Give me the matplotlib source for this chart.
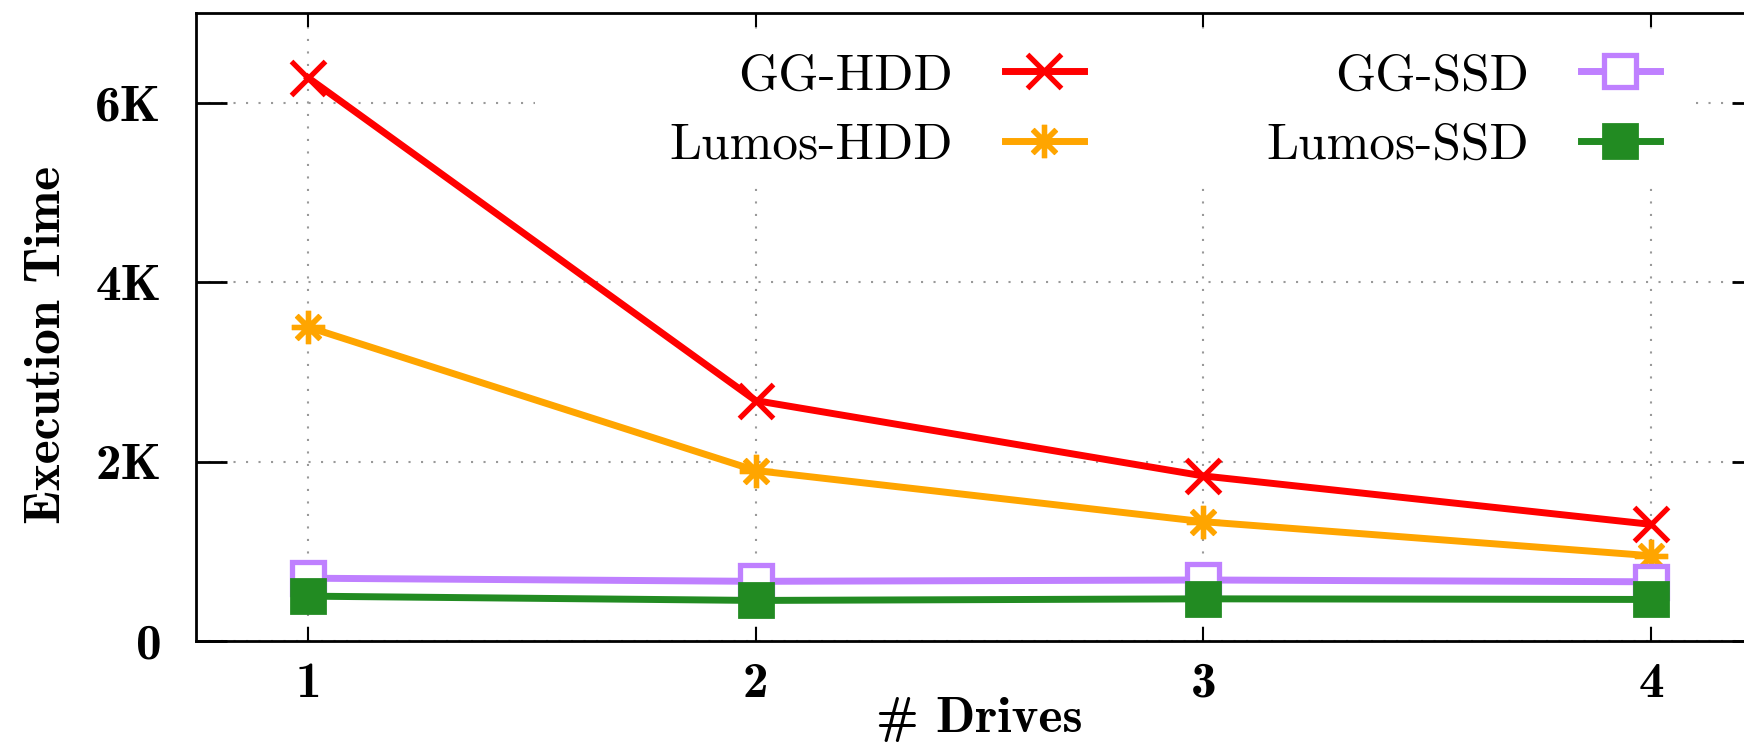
import matplotlib
matplotlib.use('Agg')
import matplotlib.pyplot as plt
from matplotlib.patches import Rectangle

# Data
drives = [1, 2, 3, 4]
gg_hdd = [6280, 2680, 1840, 1300]
lumos_hdd = [3500, 1900, 1330, 950]
gg_ssd = [700, 665, 680, 660]
lumos_ssd = [500, 452, 470, 463]

yticks = [0, 2000, 4000, 6000]
ytick_labels = ['0', '2K', '4K', '6K']

plt.rcParams['axes.unicode_minus'] = False

fig = plt.figure(figsize=(17.44, 7.49), dpi=100)
ax = fig.add_axes([196 / 1744, 1 - 641 / 749, (1763 - 196) / 1744, (641 - 13) / 749])

lw = 5
ax.plot(drives, gg_hdd, color='#ff0000', lw=lw, marker='x', ms=24, mew=3.8,
        label='GG-HDD')
ax.plot(drives, lumos_hdd, color='#ffa500', lw=lw, marker=(8, 2, 0), ms=24, mew=3.8,
        label='Lumos-HDD')
ax.plot(drives, gg_ssd, color='#bf80ff', lw=lw, marker='s', ms=23, mew=3.8,
        mfc='white', label='GG-SSD')
ax.plot(drives, lumos_ssd, color='#228b22', lw=lw, marker='s', ms=25, mew=2,
        label='Lumos-SSD')

fs = 37
ax.set_xlim(0.75, 4.25)
ax.set_ylim(0, 7000)
ax.set_xticks(drives)
ax.set_xticklabels([str(d) for d in drives], fontfamily='cmb10', fontsize=fs)
ax.set_yticks(yticks)
ax.set_yticklabels(ytick_labels, fontfamily='cmb10', fontsize=fs)

ax.tick_params(axis='y', direction='in', length=22, width=2, pad=25, right=True)
ax.tick_params(axis='x', direction='in', length=10, width=1.5, pad=15, top=True)

for s in ax.spines.values():
    s.set_linewidth(2)

ax.grid(True, color='#999999', linestyle=(0, (1, 5)), lw=1.5)
ax.set_axisbelow(True)

# white area behind the key, hides the grid there
ax.add_patch(Rectangle((535 / 1744, 1 - 180 / 749), (1695 - 535) / 1744, (180 - 35) / 749,
                       transform=fig.transFigure, facecolor='white', edgecolor='none',
                       zorder=1))

fig.text(48 / 1744, 1 - 345 / 749, 'Execution Time', rotation=90, ha='center', va='center',
         fontfamily='cmb10', fontsize=fs)
fig.text((196 + 1763) / 2 / 1744, 1 - 720 / 749, '# Drives', ha='center', va='center',
         fontfamily='cmb10', fontsize=fs)

leg = ax.legend(loc='center', bbox_to_anchor=(1165 / 1744, 1 - 111 / 749),
                bbox_transform=fig.transFigure, ncol=2, markerfirst=False,
                numpoints=1, handlelength=1.55, handletextpad=1.0, columnspacing=3.55,
                labelspacing=0.45, borderpad=0.5, frameon=False,
                prop={'family': 'cmr10', 'size': fs})
for t in leg.get_texts():
    t.set_ha('right')

fig.savefig('out.png', dpi=100)
